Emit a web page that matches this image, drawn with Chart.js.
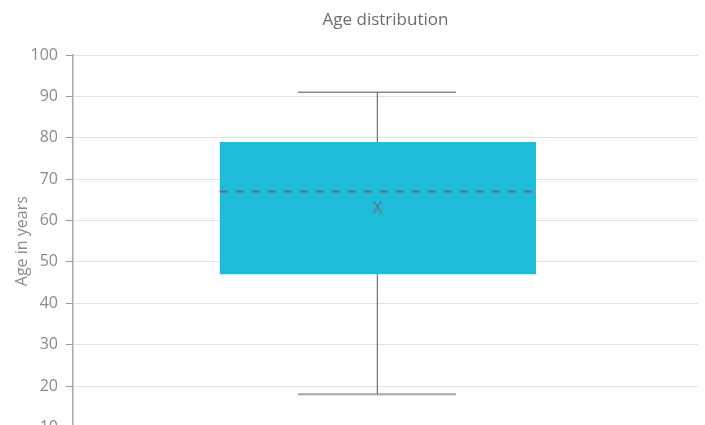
<!DOCTYPE html>
<html>
<head>
<meta charset="utf-8">
<script src="https://cdn.jsdelivr.net/npm/chart.js@4.4.1/dist/chart.umd.min.js"></script>
<style>
html, body { margin: 0; padding: 0; overflow: hidden; background: #fff; }
#wrap { width: 705px; height: 445px; }
</style>
</head>
<body>
<div id="wrap"><canvas id="ageChart"></canvas></div>
<script>
// box plot values (years)
const categories = ['Age']
const minAge = [18]
const lowerQuartile = [47]
const medianAge = [67]
const meanAge = [63]
const upperQuartile = [79]
const maxAge = [91]
const yTicks = [10, 20, 30, 40, 50, 60, 70, 80, 90, 100]

// horizontal layout on a hidden 0..1 axis
const boxLeft = 0.2345, boxRight = 0.741
const capLeft = 0.36, capRight = 0.613
const mid = 0.487

const boxColor = '#1dbcd8'
const markColor = '#6f7076'

Chart.defaults.font.family = "'Open Sans', sans-serif"

// "X" glyph used as the mean marker
let meanMark = document.createElement('canvas')
meanMark.width = 14
meanMark.height = 16
let mctx = meanMark.getContext('2d')
mctx.font = "16px 'Open Sans'"
mctx.fillStyle = markColor
mctx.textAlign = 'center'
mctx.textBaseline = 'middle'
mctx.fillText('X', 7, 8)

function hline(y, x0, x1) { return [{x: x0, y: y}, {x: x1, y: y}] }
function vline(x, y0, y1) { return [{x: x, y: y0}, {x: x, y: y1}] }

let i = 0
let line = {showLine: true, pointRadius: 0, pointHoverRadius: 0, tension: 0, fill: false}

let chart = new Chart(document.getElementById('ageChart'), {
    type: 'scatter',
    data: {
        datasets: [{
            ...line,
            label: categories[i] + ' median',
            data: hline(medianAge[i], boxLeft, boxRight),
            borderColor: markColor,
            borderWidth: 2,
            borderDash: [8, 8],
        }, {
            label: categories[i] + ' mean',
            data: [{x: mid, y: meanAge[i]}],
            showLine: false,
            pointStyle: meanMark,
            pointRadius: 6,
            pointHoverRadius: 6,
        }, {
            ...line,
            label: 'upper whisker',
            data: vline(mid, upperQuartile[i], maxAge[i]),
            borderColor: '#7a7a7a',
            borderWidth: 1.3,
        }, {
            ...line,
            label: 'lower whisker',
            data: vline(mid, lowerQuartile[i], minAge[i]),
            borderColor: '#7a7a7a',
            borderWidth: 1.3,
        }, {
            ...line,
            label: 'max',
            data: hline(maxAge[i], capLeft, capRight),
            borderColor: '#8a8a8a',
            borderWidth: 1.5,
        }, {
            ...line,
            label: 'min',
            data: hline(minAge[i], capLeft, capRight),
            borderColor: '#b3b3b3',
            borderWidth: 2.5,
        }, {
            ...line,
            label: 'Q3',
            data: hline(upperQuartile[i], boxLeft, boxRight),
            borderWidth: 0,
            backgroundColor: boxColor,
            fill: '+1',
        }, {
            ...line,
            label: 'Q1',
            data: hline(lowerQuartile[i], boxLeft, boxRight),
            borderWidth: 0,
        }]
    },
    options: {
        animation: false,
        responsive: true,
        maintainAspectRatio: false,
        layout: {
            padding: {left: 0, right: 5, top: 0, bottom: 5}
        },
        scales: {
            x: {
                type: 'linear',
                min: 0,
                max: 1,
                display: false,
            },
            y: {
                min: yTicks[0],
                max: yTicks[yTicks.length - 1],
                afterBuildTicks: (scale) => {
                    scale.ticks = yTicks.map(v => ({value: v}))
                },
                afterFit: (scale) => {
                    scale.width = 73
                },
                ticks: {
                    color: '#8a8a8a',
                    padding: 8,
                    font: {size: 16},
                },
                grid: {
                    color: '#e3e3e3',
                    tickColor: '#9a9a9a',
                    tickLength: 7,
                },
                border: {
                    color: '#a8a8a8',
                    width: 1.5,
                },
                title: {
                    display: true,
                    text: 'Age in years',
                    color: '#8a8a8a',
                    font: {size: 16, lineHeight: 1},
                    padding: {top: 14, bottom: 0},
                },
            },
        },
        plugins: {
            legend: {display: false},
            tooltip: {enabled: false},
            title: {
                display: true,
                text: 'Age distribution',
                color: '#6b6b6b',
                fullSize: false,
                font: {size: 17, weight: 'normal'},
                padding: {top: 10, bottom: 24.6},
            },
        },
    },
})
</script>
</body>
</html>
